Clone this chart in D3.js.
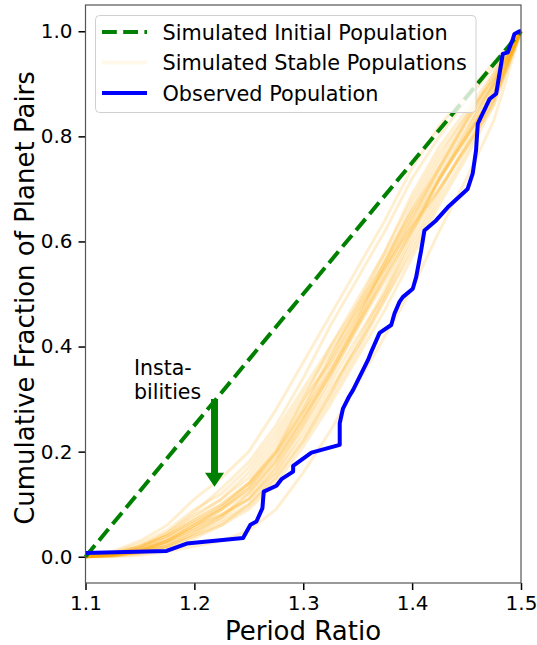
<!DOCTYPE html>
<html lang="en">
<head>
<meta charset="utf-8">
<title>Period ratio CDF</title>
<script src="https://cdnjs.cloudflare.com/ajax/libs/d3/7.8.5/d3.min.js"></script>
<style>
  body { margin: 0; background: #fff; }
  text { font-family: "DejaVu Sans", sans-serif; fill: #000; }
</style>
</head>
<body>
<script>
// x grid for the simulated stable populations
const simX = [1.1, 1.125, 1.15, 1.175, 1.2, 1.225, 1.25, 1.275, 1.3, 1.325, 1.35, 1.375, 1.4, 1.425, 1.45, 1.475, 1.5];
const simRuns = [
  [0, 0, .003, .01, .02, .03, .05, .09, .16, .24, .33, .42, .51, .62, .72, .83, 1],
  [0, .01, .03, .06, .11, .15, .20, .28, .37, .46, .55, .64, .74, .82, .88, .94, 1],
  [0, .003, .01, .025, .05, .08, .11, .17, .25, .33, .42, .50, .60, .70, .78, .87, 1],
  [0, .006, .02, .04, .07, .10, .14, .21, .29, .38, .47, .57, .66, .74, .82, .90, 1],
  [0, .002, .008, .02, .04, .06, .09, .14, .21, .29, .38, .47, .57, .67, .76, .86, 1],
  [0, .005, .015, .035, .065, .09, .13, .19, .27, .36, .45, .55, .64, .72, .80, .89, 1],
  [0, .004, .012, .028, .055, .09, .13, .20, .30, .40, .48, .56, .65, .73, .81, .90, 1],
  [0, .001, .005, .015, .035, .06, .10, .16, .23, .31, .40, .50, .61, .72, .81, .90, 1],
  [0, .008, .025, .05, .09, .12, .17, .24, .32, .40, .49, .58, .68, .77, .84, .91, 1],
  [0, .003, .01, .03, .06, .08, .11, .16, .24, .32, .40, .49, .58, .68, .77, .87, 1],
  [0, .002, .01, .02, .045, .07, .10, .15, .22, .30, .39, .49, .59, .69, .79, .89, 1],
  [0, .007, .018, .045, .08, .11, .15, .22, .30, .37, .46, .55, .65, .74, .83, .91, 1],
  [0, .004, .014, .03, .055, .08, .12, .18, .26, .35, .44, .53, .62, .70, .78, .87, 1],
  [0, .005, .012, .03, .06, .09, .125, .185, .265, .345, .435, .525, .625, .715, .80, .88, 1],
  [0, .002, .007, .018, .04, .065, .095, .15, .22, .31, .41, .51, .62, .72, .80, .88, 1],
  [0, .006, .02, .04, .075, .11, .16, .23, .31, .39, .47, .55, .63, .70, .78, .86, 1],
  [0, .003, .01, .025, .05, .075, .11, .17, .25, .34, .44, .54, .64, .74, .83, .92, 1],
  [0, .004, .015, .035, .065, .095, .135, .195, .275, .355, .445, .535, .63, .72, .80, .88, 1],
  [0, .005, .02, .045, .085, .13, .18, .25, .34, .44, .53, .62, .72, .80, .87, .93, 1],
  [0, .002, .01, .03, .06, .095, .14, .20, .28, .38, .48, .58, .69, .78, .85, .92, 1],
  [0, .003, .008, .02, .045, .075, .12, .18, .26, .35, .45, .56, .66, .75, .83, .90, 1],
  [0, .004, .016, .04, .07, .10, .14, .20, .28, .37, .46, .56, .67, .76, .84, .91, 1]
];

// observed population
const obsX = [1.1, 1.1745, 1.193, 1.2447, 1.2515, 1.257, 1.2625, 1.2637, 1.2754, 1.28, 1.2907, 1.2907, 1.3075,
  1.3335, 1.3335, 1.3365, 1.342, 1.3457, 1.3594, 1.3625, 1.3701, 1.3808, 1.3838, 1.3884, 1.3914, 1.4006,
  1.4037, 1.4083, 1.4113, 1.422, 1.4327, 1.451, 1.4556, 1.4587, 1.4603, 1.4711, 1.4772, 1.4787, 1.4833,
  1.4879, 1.4925, 1.494, 1.4986, 1.5];
const obsY = [0.007, 0.011, 0.025, 0.0355, 0.061, 0.067, 0.0925, 0.124, 0.135, 0.1476, 0.162, 0.173, 0.198,
  0.213, 0.254, 0.282, 0.3045, 0.317, 0.374, 0.390, 0.426, 0.441, 0.463, 0.485, 0.494, 0.510,
  0.532, 0.583, 0.621, 0.640, 0.665, 0.700, 0.729, 0.773, 0.824, 0.871, 0.881, 0.900, 0.957,
  0.960, 0.985, 0.995, 1.0, 1.0];

const initX = [1.1, 1.5];
const initY = [0, 1];

const xTicks = [1.1, 1.2, 1.3, 1.4, 1.5];
const yTicks = [0, 0.2, 0.4, 0.6, 0.8, 1.0];
const legendLabels = ["Simulated Initial Population", "Simulated Stable Populations", "Observed Population"];

var w = 537, h = 645;
var svg = d3.select("body").append("svg").attr("width", w).attr("height", h);

var x = d3.scaleLinear().domain([1.1, 1.5]).range([85.5, 521]);
var y = d3.scaleLinear().domain([-0.05, 1.05]).range([583, 5]);

var line = d3.line().x(d => x(d[0])).y(d => y(d[1]));

// simulated runs
svg.append("g").selectAll("path")
  .data(simRuns)
  .enter().append("path")
  .attr("d", r => line(r.map((v, i) => [simX[i], v])))
  .attr("fill", "none")
  .attr("stroke", "orange")
  .attr("stroke-opacity", 0.18)
  .attr("stroke-width", 3)
  .attr("stroke-linejoin", "round");

// initial population
svg.append("path")
  .attr("d", line(initX.map((v, i) => [v, initY[i]])))
  .attr("fill", "none")
  .attr("stroke", "green")
  .attr("stroke-width", 4)
  .attr("stroke-dasharray", "14.8,6.4");

// observed
svg.append("path")
  .attr("d", line(obsX.map((v, i) => [v, obsY[i]])))
  .attr("fill", "none")
  .attr("stroke", "#0000ff")
  .attr("stroke-width", 4)
  .attr("stroke-linejoin", "round");

// instabilities arrow
var ax = x(1.2185), aTop = y(0.30), aTip = y(0.133);
svg.append("path")
  .attr("d", `M${ax - 3.5},${aTop} L${ax + 3.5},${aTop} L${ax + 3.5},${aTip - 14} L${ax + 9.5},${aTip - 14}
    L${ax},${aTip} L${ax - 9.5},${aTip - 14} L${ax - 3.5},${aTip - 14} Z`)
  .attr("fill", "green");

svg.append("text").attr("x", 134).attr("y", 375).attr("font-size", 20.5).text("Insta-");
svg.append("text").attr("x", 134).attr("y", 399).attr("font-size", 20.5).text("bilities");

// axes
var xAxis = svg.append("g").attr("transform", "translate(0,583)")
  .call(d3.axisBottom(x).tickValues(xTicks).tickFormat(d3.format(".1f")).tickSize(7).tickPadding(6));
var yAxis = svg.append("g").attr("transform", "translate(85.5,0)")
  .call(d3.axisLeft(y).tickValues(yTicks).tickFormat(d3.format(".1f")).tickSize(7).tickPadding(6));
[xAxis, yAxis].forEach(g => {
  g.select(".domain").remove();
  g.selectAll("line").attr("stroke", "#000").attr("stroke-width", 1.5);
  g.selectAll("text").attr("font-size", 20).attr("font-family", "DejaVu Sans").attr("fill", "#000");
});

// frame
svg.append("rect")
  .attr("x", 85.5).attr("y", 5).attr("width", 521 - 85.5).attr("height", 578)
  .attr("fill", "none").attr("stroke", "#555").attr("stroke-width", 1.2);

// axis labels
svg.append("text").attr("x", 303).attr("y", 640).attr("text-anchor", "middle")
  .attr("font-size", 26).text("Period Ratio");
svg.append("text").attr("transform", "translate(34,298) rotate(-90)").attr("text-anchor", "middle")
  .attr("font-size", 26).text("Cumulative Fraction of Planet Pairs");

// legend
var lg = svg.append("g");
lg.append("rect").attr("x", 95.5).attr("y", 15.5).attr("width", 380.5).attr("height", 97).attr("rx", 4)
  .attr("fill", "white").attr("fill-opacity", 0.8).attr("stroke", "#d0d0d0").attr("stroke-width", 1);
var handles = [
  { stroke: "green", dash: "14.8,6.4", op: 1 },
  { stroke: "orange", dash: null, op: 0.08 },
  { stroke: "#0000ff", dash: null, op: 1 }
];
legendLabels.forEach((lab, i) => {
  var cy = 32 + i * 30.5;
  lg.append("line").attr("x1", 102).attr("x2", 147).attr("y1", cy).attr("y2", cy)
    .attr("stroke", handles[i].stroke).attr("stroke-width", 4)
    .attr("stroke-opacity", handles[i].op)
    .attr("stroke-dasharray", handles[i].dash);
  lg.append("text").attr("x", 162.5).attr("y", cy + 7.5).attr("font-size", 20.8).text(lab);
});
</script>
</body>
</html>
